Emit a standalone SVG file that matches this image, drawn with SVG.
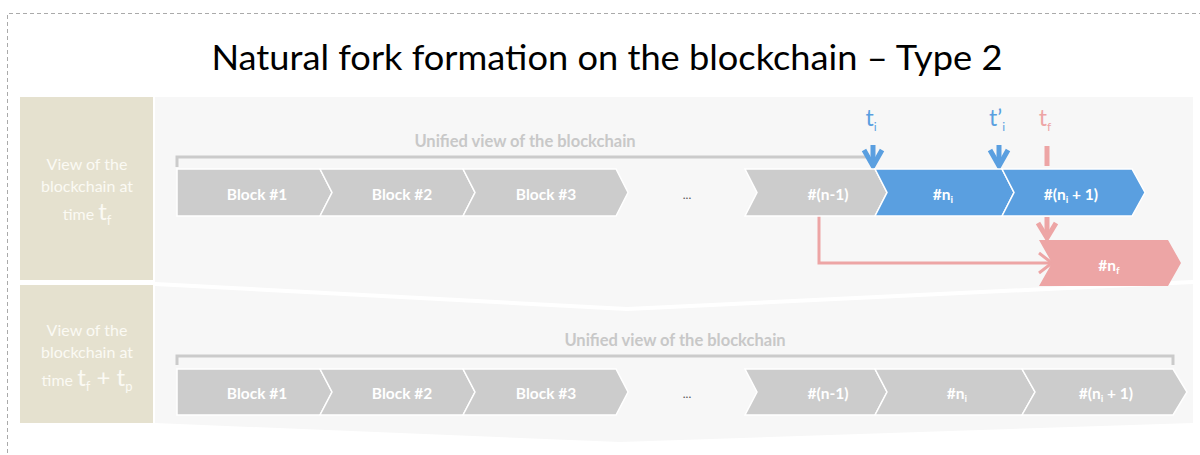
<svg xmlns="http://www.w3.org/2000/svg" width="1200" height="455" viewBox="0 0 1200 455">
<defs>
<style>
.bg{fill:#f7f7f7}
.lbl{fill:#e5e1cf}
.lt{font-family:Lato,"Open Sans",sans-serif;font-size:16px;fill:#fbfaf4;text-anchor:middle}
.blk{stroke:#ffffff;stroke-width:1.5}
.g{fill:#cccccc}
.b{fill:#5a9fe0}
.p{fill:#eda5a5}
.bt{font-family:Lato,"Open Sans",sans-serif;font-size:15.5px;font-weight:bold;fill:#ffffff;text-anchor:middle}
.uv{font-family:Lato,"Open Sans",sans-serif;font-size:16.5px;font-weight:bold;fill:#c8c8c8;text-anchor:middle}
.br{fill:none;stroke:#cbcbcb;stroke-width:3}
.pk{fill:none;stroke:#eda5a5;stroke-width:3}
.mk{fill:none;stroke-width:5}
.tl{font-family:Lato,"Open Sans",sans-serif;font-size:23px;text-anchor:middle}
</style>
</defs>
<rect width="1200" height="455" fill="#ffffff"/>
<path d="M7.5,460 V13.5 H1200" fill="none" stroke="#aaaaaa" stroke-width="1" stroke-dasharray="4,3"/>
<text x="607" y="70" font-family="Lato,'Open Sans',sans-serif" font-size="34" fill="#000000" text-anchor="middle" textLength="791" lengthAdjust="spacingAndGlyphs">Natural fork formation on the blockchain – Type 2</text>

<g id="panel-top">
<polygon class="bg" points="155,97 1193,97 1193,280 627,307 155,282"/>
<rect class="lbl" x="20" y="97" width="133" height="183"/>
<text class="lt" x="87" y="170">View of the</text>
<text class="lt" x="87" y="192">blockchain at</text>
<text class="lt" x="87" y="220">time <tspan font-size="24">t</tspan><tspan font-size="13" dy="5">f</tspan></text>
</g>
<g id="panel-bottom">
<polygon class="bg" points="155,286 627,311 1193,284 1193,423 620,442 155,423"/>
<rect class="lbl" x="20" y="285" width="133" height="138"/>
<text class="lt" x="87" y="336">View of the</text>
<text class="lt" x="87" y="358">blockchain at</text>
<text class="lt" x="87" y="386">time <tspan font-size="24">t</tspan><tspan font-size="13" dy="5">f</tspan><tspan font-size="24" dy="-5"> + t</tspan><tspan font-size="13" dy="5">p</tspan></text>
</g>

<g id="connectors">
<path class="br" d="M177,167 V157 H870"/>
<path class="br" d="M177,365 V356 H1173 V365"/>
<path class="pk" d="M819,216 V263 H1050"/>
<polyline class="pk" points="1039,253 1052,263 1039,273"/>
<g stroke="#5a9fe0" class="mk">
<path d="M873,145 V166"/>
<polyline points="864,150 873,166 882,150"/>
<path d="M999,145 V166"/>
<polyline points="990,150 999,166 1008,150"/>
</g>
<path d="M1047,146 V166" stroke="#eda5a5" stroke-width="5"/>
<g stroke="#eda5a5" class="mk">
<path d="M1047,217 V238"/>
<polyline points="1038,223 1047,238 1056,223"/>
</g>
</g>

<g id="labels">
<text class="uv" x="525" y="147">Unified view of the blockchain</text>
<text class="uv" x="675" y="346">Unified view  of the blockchain</text>
<text class="tl" x="871" y="126" fill="#5a9fe0">t<tspan font-size="12" dy="5">i</tspan></text>
<text class="tl" x="997" y="126" fill="#5a9fe0">t’<tspan font-size="12" dy="5">i</tspan></text>
<text class="tl" x="1045" y="126" fill="#eda5a5">t<tspan font-size="12" dy="5">f</tspan></text>
<text x="687" y="199" font-family="Lato,sans-serif" font-size="12" fill="#555555" text-anchor="middle">...</text>
<text x="687" y="398" font-family="Lato,sans-serif" font-size="12" fill="#555555" text-anchor="middle">...</text>
</g>

<g id="top-block1"><path class="blk g" d="M177,169 H320 L332,192.5 L320,216 H177 Z"/><text class="bt" x="257" y="200">Block #1</text></g>
<g id="top-block2"><path class="blk g" d="M320,169 H463 L475,192.5 L463,216 H320 L332,192.5 Z"/><text class="bt" x="402" y="200">Block #2</text></g>
<g id="top-block3"><path class="blk g" d="M463,169 H616 L628,192.5 L616,216 H463 L475,192.5 Z"/><text class="bt" x="546" y="200">Block #3</text></g>
<g id="top-blockn1"><path class="blk g" d="M745,169 H875 L887,192.5 L875,216 H745 L757,192.5 Z"/><text class="bt" x="828" y="200">#(n-1)</text></g>
<g id="top-blockni"><path class="blk b" d="M875,169 H1002 L1014,192.5 L1002,216 H875 L887,192.5 Z"/><text class="bt" x="943" y="200">#n<tspan font-size="10" dy="3">i</tspan></text></g>
<g id="top-blockni1"><path class="blk b" d="M1002,169 H1132 L1145,192.5 L1132,216 H1002 L1014,192.5 Z"/><text class="bt" x="1071" y="200">#(n<tspan font-size="10" dy="3">i</tspan><tspan dy="-3"> + 1)</tspan></text></g>
<g id="top-blocknf"><path class="p" d="M1039,240 H1168 L1181,263 L1168,286 H1039 L1052,263 Z"/><text class="bt" x="1109" y="271">#n<tspan font-size="10" dy="3">f</tspan></text></g>

<g id="bot-block1"><path class="blk g" d="M177,369 H320 L332,392 L320,415 H177 Z"/><text class="bt" x="257" y="399">Block #1</text></g>
<g id="bot-block2"><path class="blk g" d="M320,369 H463 L475,392 L463,415 H320 L332,392 Z"/><text class="bt" x="402" y="399">Block #2</text></g>
<g id="bot-block3"><path class="blk g" d="M463,369 H616 L628,392 L616,415 H463 L475,392 Z"/><text class="bt" x="546" y="399">Block #3</text></g>
<g id="bot-blockn1"><path class="blk g" d="M745,369 H875 L887,392 L875,415 H745 L757,392 Z"/><text class="bt" x="828" y="399">#(n-1)</text></g>
<g id="bot-blockni"><path class="blk g" d="M875,369 H1022 L1035,392 L1022,415 H875 L887,392 Z"/><text class="bt" x="957" y="399">#n<tspan font-size="10" dy="3">i</tspan></text></g>
<g id="bot-blockni1"><path class="blk g" d="M1022,369 H1173 L1187,392 L1173,415 H1022 L1035,392 Z"/><text class="bt" x="1106" y="399">#(n<tspan font-size="10" dy="3">i</tspan><tspan dy="-3"> + 1)</tspan></text></g>
</svg>
